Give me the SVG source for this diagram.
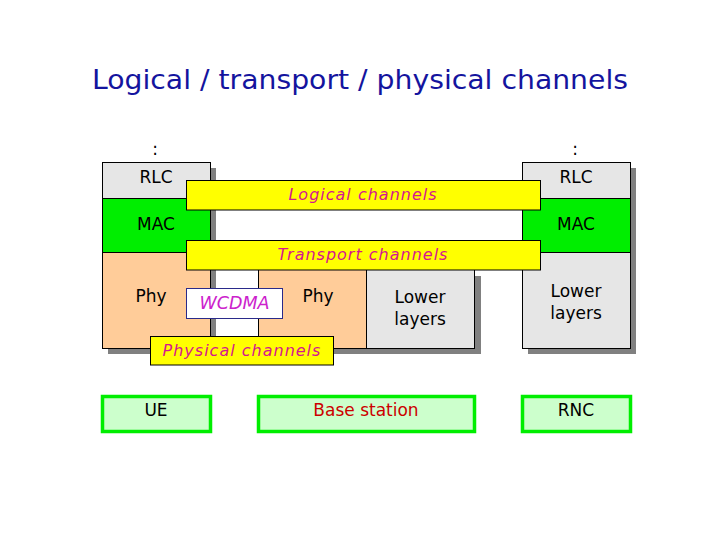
<svg xmlns="http://www.w3.org/2000/svg" width="720" height="540" viewBox="0 0 720 540">
<style>
  .t { font-family: "DejaVu Sans", Verdana, sans-serif; font-size: 17px; fill: #000; text-anchor: middle; }
  .ch { font-family: "DejaVu Sans", Verdana, sans-serif; font-size: 16px; letter-spacing: 1px; font-style: italic; fill: #d4178f; text-anchor: middle; }
  .box { stroke: #000; stroke-width: 1; }
  .shadow { fill: #808080; }
  .rlc { fill: #e6e6e6; }
  .mac { fill: #00ee00; }
  .phy { fill: #ffcc99; }
  .low { fill: #e6e6e6; }
  .bar { fill: #ffff00; stroke: #000; stroke-width: 1; }
  .ent { fill: #ccffcc; stroke: #00ee00; stroke-width: 3.5; }
</style>
<rect width="720" height="540" fill="#fff"/>
<text x="360" y="89" font-family="DejaVu Sans, Verdana, sans-serif" font-size="27" fill="#14149e" text-anchor="middle" textLength="536" lengthAdjust="spacingAndGlyphs">Logical / transport / physical channels</text>

<g id="ue-stack">
  <rect class="shadow" x="108" y="168" width="108" height="186"/>
  <rect class="box rlc" x="102.5" y="162.5" width="108" height="36"/>
  <rect class="box mac" x="102.5" y="198.5" width="108" height="54"/>
  <rect class="box phy" x="102.5" y="252.5" width="108" height="96"/>
  <text class="t" x="155" y="155">:</text>
  <text class="t" x="156" y="183">RLC</text>
  <text class="t" x="156" y="230">MAC</text>
  <text class="t" x="151" y="302">Phy</text>
</g>

<g id="bs-stack">
  <rect class="shadow" x="264" y="276" width="217" height="78"/>
  <rect class="box phy" x="258.5" y="262.5" width="108" height="86"/>
  <rect class="box low" x="366.5" y="262.5" width="108" height="86"/>
  <text class="t" x="318" y="302">Phy</text>
  <text class="t" x="420" y="303">Lower</text>
  <text class="t" x="420" y="325">layers</text>
</g>

<g id="rnc-stack">
  <rect class="shadow" x="528" y="168" width="108" height="186"/>
  <rect class="box rlc" x="522.5" y="162.5" width="108" height="36"/>
  <rect class="box mac" x="522.5" y="198.5" width="108" height="54"/>
  <rect class="box low" x="522.5" y="252.5" width="108" height="96"/>
  <text class="t" x="575" y="155">:</text>
  <text class="t" x="576" y="183">RLC</text>
  <text class="t" x="576" y="230">MAC</text>
  <text class="t" x="576" y="297">Lower</text>
  <text class="t" x="576" y="319">layers</text>
</g>

<g id="logical-channels">
  <rect class="bar" x="186.5" y="180.5" width="354" height="29.5"/>
  <text class="ch" x="363" y="200">Logical channels</text>
</g>

<g id="transport-channels">
  <rect class="bar" x="186.5" y="240.5" width="354" height="29.5"/>
  <text class="ch" x="363" y="260">Transport channels</text>
</g>

<g id="wcdma">
  <rect x="186.5" y="288.5" width="96" height="30" fill="#fff" stroke="#2a2a8a" stroke-width="1"/>
  <text x="234.5" y="309" font-family="DejaVu Sans, Verdana, sans-serif" font-size="17.5" font-style="italic" fill="#cc22cc" text-anchor="middle">WCDMA</text>
</g>

<g id="physical-channels">
  <rect class="bar" x="150.5" y="336.5" width="183" height="28.5"/>
  <text class="ch" x="242" y="356">Physical channels</text>
</g>

<g id="ue">
  <rect class="ent" x="102.5" y="396.5" width="108" height="35"/>
  <text class="t" x="156" y="416">UE</text>
</g>
<g id="base-station">
  <rect class="ent" x="258.5" y="396.5" width="216" height="35"/>
  <text class="t" x="366" y="416" style="fill:#cc0000">Base station</text>
</g>
<g id="rnc">
  <rect class="ent" x="522.5" y="396.5" width="108" height="35"/>
  <text class="t" x="576" y="416">RNC</text>
</g>

<g id="connectors"></g>
</svg>
